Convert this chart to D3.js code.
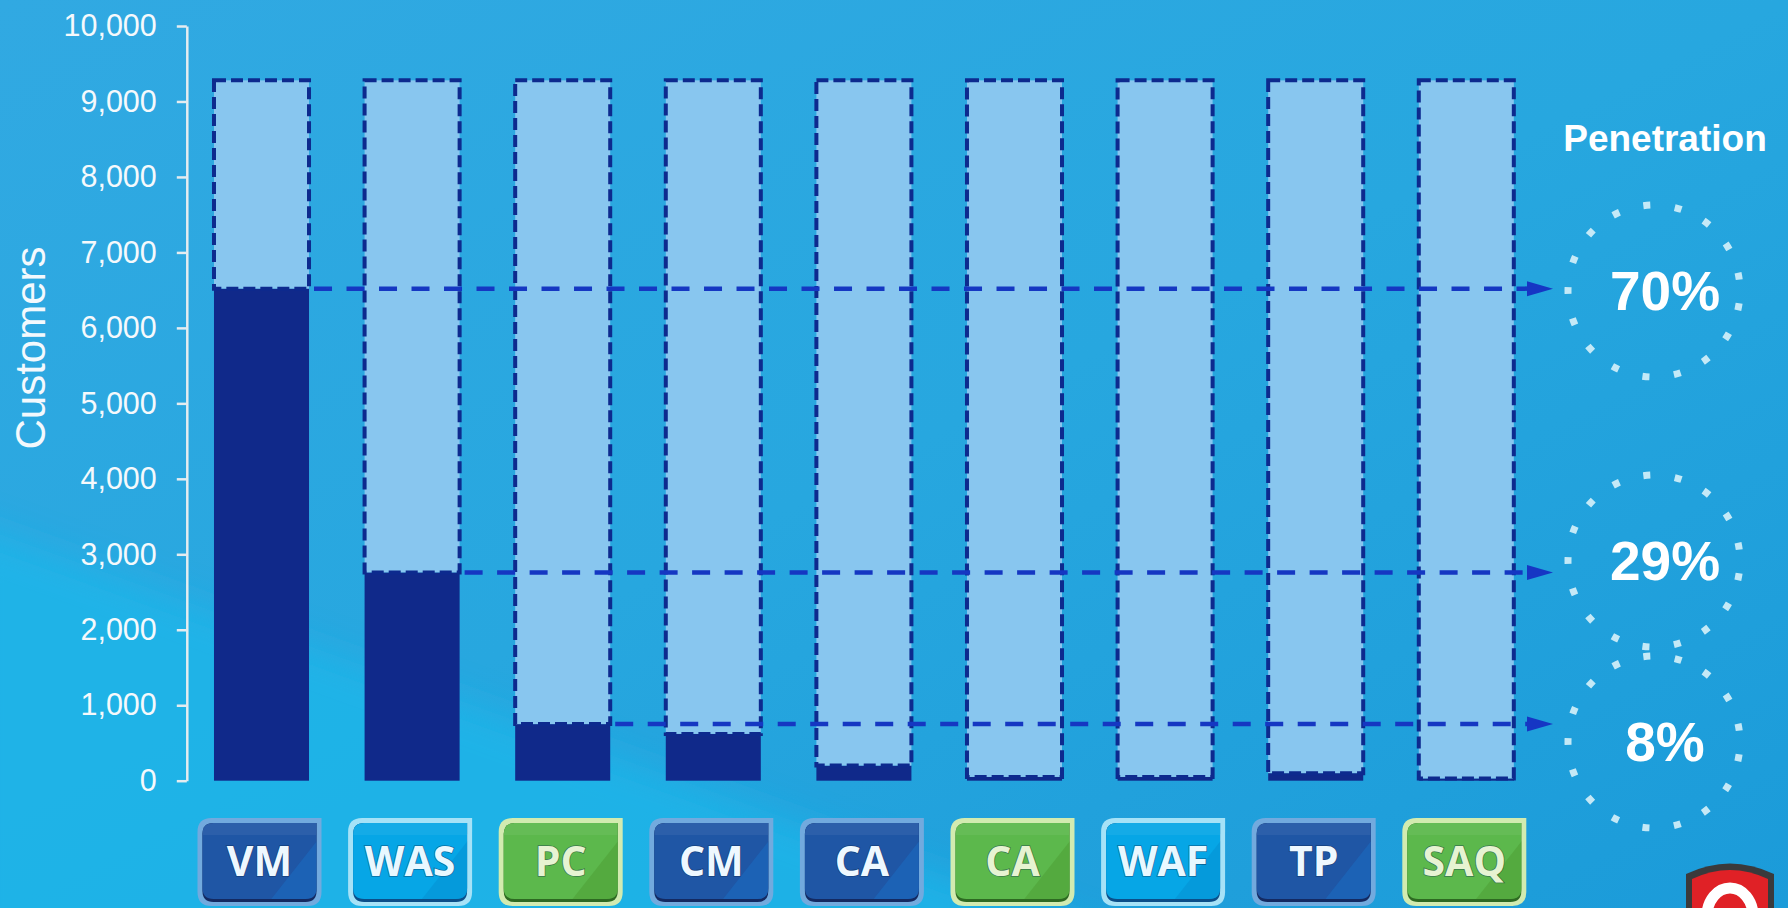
<!DOCTYPE html>
<html><head><meta charset="utf-8">
<script src="https://cdn.jsdelivr.net/npm/d3@7"></script>
<style>html,body{margin:0;padding:0;overflow:hidden;background:#26a7df}</style>
</head><body>
<svg id="chart" width="1788" height="908"></svg>
<script>
// ---------- data ----------
const categories = ["VM", "WAS", "PC", "CM", "CA", "CA", "WAF", "TP", "SAQ"];
const customers = [6520, 2760, 750, 620, 200, 50, 50, 100, 30];
const customerBase = [9280, 9280, 9280, 9280, 9280, 9280, 9280, 9280, 9280];
const yTicks = [0, 1000, 2000, 3000, 4000, 5000, 6000, 7000, 8000, 9000, 10000];
const penetrationLabels = ["70%", "29%", "8%"];
const penetrationSource = [0, 1, 2];   // category whose customer count the arrow marks
const badgeTheme = ["navy", "sky", "green", "navy", "navy", "green", "sky", "navy", "green"];

// ---------- layout / style ----------
const W = 1788, H = 908;
const ringCY = [291, 561, 742];
const ringCX = 1654, ringR = 86;
const themes = {
  navy:  {edge: "#72aade", face: "#1f56a5", gloss: "#1a6dc2", rim: "#142a62", text: "#eef8ff"},
  sky:   {edge: "#a6e2f7", face: "#06a6e6", gloss: "#0590d2", rim: "#0b4f8a", text: "#e8f8ff"},
  green: {edge: "#d2ebb0", face: "#5cb84c", gloss: "#4f9f35", rim: "#2e6a22", text: "#e6f3d2"}
};

const svg = d3.select("#chart");
const defs = svg.append("defs");

// background
const bg = defs.append("linearGradient").attr("id", "bg")
  .attr("x1", 0).attr("y1", 0).attr("x2", 1).attr("y2", 1);
bg.append("stop").attr("offset", 0).attr("stop-color", "#31a9e2");
bg.append("stop").attr("offset", 0.5).attr("stop-color", "#27a7df");
bg.append("stop").attr("offset", 1).attr("stop-color", "#1b9bd9");
svg.append("rect").attr("width", W).attr("height", H).attr("fill", "url(#bg)");
defs.append("filter").attr("id", "soft").attr("x", "-20%").attr("y", "-20%").attr("width", "140%").attr("height", "140%")
  .append("feGaussianBlur").attr("stdDeviation", 18);
svg.append("path").attr("d", "M-40,520 L1150,950 L-40,950 Z")
  .attr("fill", "#1bb7ea").attr("opacity", 0.75).attr("filter", "url(#soft)");

// scales
const y = d3.scaleLinear().domain([0, 10000]).range([780.7, 26]);
const x = d3.scaleBand().domain(d3.range(categories.length))
  .range([186.2, 1541.6]).paddingInner(0.369).paddingOuter(0.1845);
const bw = x.bandwidth();

// axis
const axis = d3.axisLeft(y).tickValues(yTicks).tickFormat(d3.format(","))
  .tickSize(10).tickSizeOuter(0).tickPadding(20);
const gA = svg.append("g").attr("transform", "translate(186.8,0)").call(axis);
gA.select(".domain").attr("stroke", "#e4ecf0").attr("stroke-width", 2.5);
gA.selectAll(".tick line").attr("stroke", "#e4ecf0").attr("stroke-width", 2.5);
gA.selectAll(".tick text").attr("fill", "#f5f9fc")
  .attr("font-family", "'Liberation Sans', Arial, sans-serif").attr("font-size", 30.5);

svg.append("text")
  .attr("transform", "translate(45,348) rotate(-90)")
  .attr("text-anchor", "middle")
  .attr("font-family", "'Liberation Sans', Arial, sans-serif")
  .attr("font-size", 42).attr("fill", "#f3f9fd")
  .text("Customers");

// bars
const idx = d3.range(categories.length);
svg.append("g").selectAll("rect").data(idx).join("rect")
  .attr("x", i => x(i)).attr("width", bw)
  .attr("y", i => y(customers[i]))
  .attr("height", i => y(0) - y(customers[i]))
  .attr("fill", "#10298a");
svg.append("g").selectAll("rect").data(idx).join("rect")
  .attr("x", i => x(i)).attr("width", bw)
  .attr("y", i => y(customerBase[i]))
  .attr("height", i => y(customers[i]) - y(customerBase[i]))
  .attr("fill", "#88c6ef")
  .attr("stroke", "#0d2a8e").attr("stroke-width", 4)
  .attr("stroke-dasharray", "12 5");

// penetration reference lines + arrows
const arrowTip = ringCX - ringR - 15;
const gL = svg.append("g");
penetrationSource.forEach((s, k) => {
  const yy = y(customers[s]);
  gL.append("line")
    .attr("x1", x(s) + bw).attr("x2", arrowTip - 24)
    .attr("y1", yy).attr("y2", yy)
    .attr("stroke", "#1537c2").attr("stroke-width", 4.5)
    .attr("stroke-dasharray", "18 14.5")
    .attr("stroke-dashoffset", -5);
  gL.append("path")
    .attr("d", `M${arrowTip},${yy} L${arrowTip - 26},${yy - 7.5} L${arrowTip - 26},${yy + 7.5} Z`)
    .attr("fill", "#1636c4");
});

// penetration rings
const circ = 2 * Math.PI * ringR;
const pitch = circ / 17;
const startArc = (Math.PI / 17) * ringR;
const gR = svg.append("g");
penetrationLabels.forEach((lab, k) => {
  gR.append("circle")
    .attr("cx", ringCX).attr("cy", ringCY[k]).attr("r", ringR)
    .attr("fill", "none").attr("stroke", "#d3eff9").attr("stroke-opacity", 0.92)
    .attr("stroke-width", 7)
    .attr("stroke-dasharray", `7 ${pitch - 7}`)
    .attr("stroke-dashoffset", -(startArc - 3.5));
  gR.append("text")
    .attr("x", 1665).attr("y", ringCY[k] + 19)
    .attr("text-anchor", "middle")
    .attr("font-family", "'Liberation Sans', Arial, sans-serif")
    .attr("font-weight", "bold").attr("font-size", 55)
    .attr("fill", "#ffffff").text(lab);
});
svg.append("text")
  .attr("x", 1665).attr("y", 150.5).attr("text-anchor", "middle")
  .attr("font-family", "'Liberation Sans', Arial, sans-serif")
  .attr("font-weight", "bold").attr("font-size", 37)
  .attr("fill", "#ffffff").text("Penetration");

// category badges
const bW = 124, bH = 88, bTop = 818;
const gB = svg.append("g");
idx.forEach(i => {
  const t = themes[badgeTheme[i]];
  const cx = x(i) + bw / 2 - 2;
  const l = cx - bW / 2, r = cx + bW / 2;
  const g = gB.append("g");
  const outer = `M${l + 14},${bTop} L${r},${bTop} L${r},${bTop + bH - 14} Q${r},${bTop + bH} ${r - 14},${bTop + bH} L${l + 14},${bTop + bH} Q${l},${bTop + bH} ${l},${bTop + bH - 14} L${l},${bTop + 14} Q${l},${bTop} ${l + 14},${bTop} Z`;
  g.append("path").attr("d", outer).attr("fill", t.edge);
  const il = l + 5, ir = r - 5, it = bTop + 5, ib = bTop + bH - 4;
  const inner = (bot) => `M${il + 11},${it} L${ir},${it} L${ir},${bot - 11} Q${ir},${bot} ${ir - 11},${bot} L${il + 11},${bot} Q${il},${bot} ${il},${bot - 11} L${il},${it + 11} Q${il},${it} ${il + 11},${it} Z`;
  g.append("path").attr("d", inner(ib)).attr("fill", t.rim);
  g.append("path").attr("d", inner(ib - 3)).attr("fill", t.face);
  const cid = "bclip" + i;
  defs.append("clipPath").attr("id", cid).append("path").attr("d", inner(ib - 3));
  g.append("path").attr("clip-path", `url(#${cid})`)
    .attr("d", `M${ir + 2},${it + 16} L${il + 35},${ib + 40} L${ir + 2},${ib + 40} Z`)
    .attr("fill", t.gloss).attr("opacity", 0.55);
  g.append("rect").attr("x", il).attr("y", it).attr("width", ir - il).attr("height", 12)
    .attr("clip-path", `url(#${cid})`).attr("fill", "#ffffff").attr("opacity", 0.06);
  g.append("text")
    .attr("x", cx).attr("y", bTop + 58).attr("text-anchor", "middle")
    .attr("font-family", "'Open Sans', 'Noto Sans', sans-serif")
    .attr("font-weight", 700).attr("font-size", 41)
    .attr("fill", t.text)
    .attr("stroke", "#0a2448").attr("stroke-opacity", 0.45).attr("stroke-width", 1.6)
    .attr("paint-order", "stroke")
    .text(categories[i]);
});

// logo (bottom-right shield)
const lg = svg.append("g");
lg.append("path").attr("d", "M1686,874 Q1730,853 1774,874 L1774,912 L1686,912 Z").attr("fill", "#3a3a3c");
lg.append("path").attr("d", "M1692,879 Q1730,861 1768,879 L1768,912 L1692,912 Z").attr("fill", "#e02126");
defs.append("clipPath").attr("id", "logoclip").append("path").attr("d", "M1692,879 Q1730,861 1768,879 L1768,912 L1692,912 Z");
lg.append("ellipse").attr("cx", 1730).attr("cy", 916).attr("rx", 23).attr("ry", 28)
  .attr("fill", "none").attr("stroke", "#ffffff").attr("stroke-width", 11)
  .attr("clip-path", "url(#logoclip)");
</script>
</body></html>
